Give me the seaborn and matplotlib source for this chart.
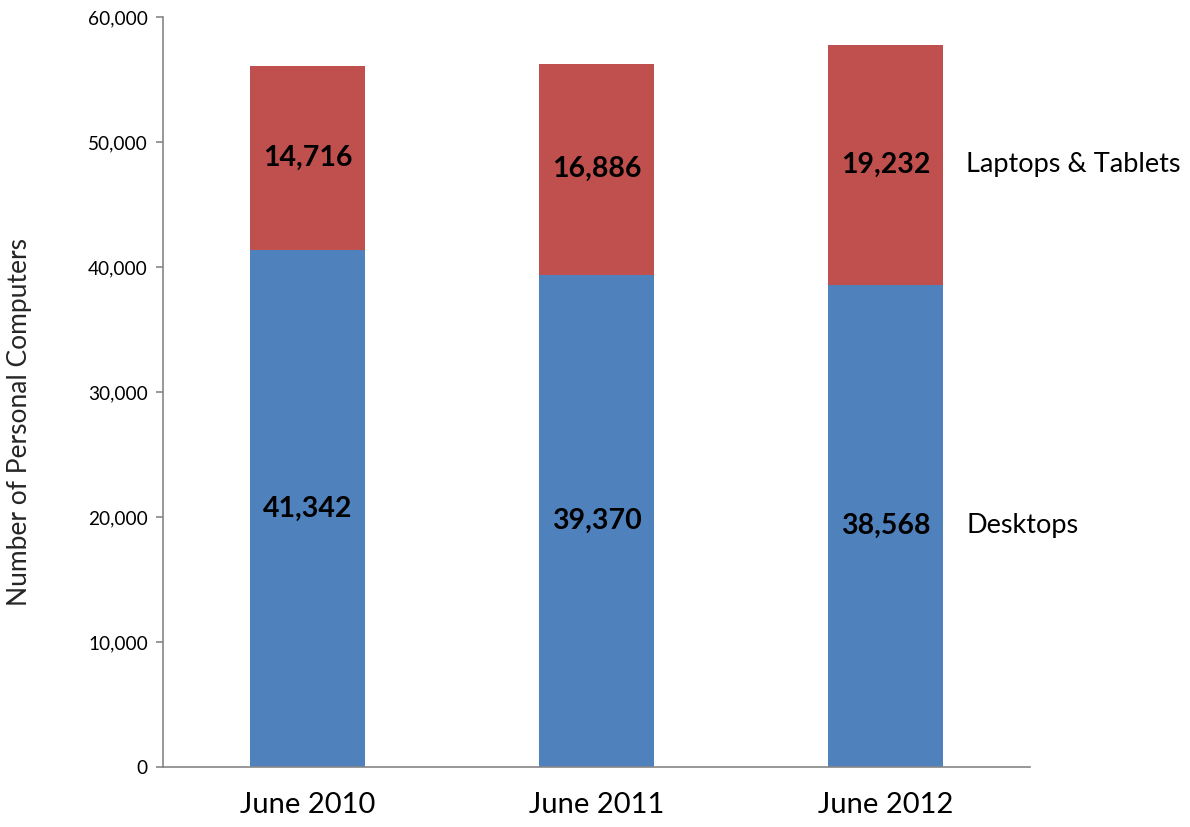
import matplotlib
matplotlib.use("Agg")
import matplotlib.pyplot as plt
import seaborn as sns
import pandas as pd
import numpy as np

# Personal computer counts by period
periods = ["June 2010", "June 2011", "June 2012"]
desktops = [41342, 39370, 38568]
laptops_tablets = [14716, 16886, 19232]
series_names = ["Desktops", "Laptops & Tablets"]
y_ticks = [0, 10000, 20000, 30000, 40000, 50000, 60000]

BLUE = "#4F81BD"
RED = "#C0504D"
AXIS_GRAY = "#868686"

sns.set_theme(style="white")
plt.rcParams["font.family"] = ["Lato", "DejaVu Sans"]

df = pd.DataFrame({
    "period": periods,
    "desktops": desktops,
    "laptops": laptops_tablets,
})
df["total"] = df["desktops"] + df["laptops"]

fig = plt.figure(figsize=(11.9, 8.27), dpi=100)
ax = fig.add_axes([0.137, 0.0726, 0.7286, 0.9068])

# Stacked bars: full stack in red, desktop portion in blue on top of it
sns.barplot(data=df, x="period", y="total", color=RED, saturation=1,
            width=0.4, ax=ax, edgecolor="none")
sns.barplot(data=df, x="period", y="desktops", color=BLUE, saturation=1,
            width=0.4, ax=ax, edgecolor="none")

# Value labels centred in each segment
for i, (d, l) in enumerate(zip(desktops, laptops_tablets)):
    ax.text(i, d / 2, f"{d:,}", ha="center", va="center",
            fontsize=20.5, fontweight="bold", color="black")
    ax.text(i, d + l / 2, f"{l:,}", ha="center", va="center",
            fontsize=20.5, fontweight="bold", color="black")

# Series names to the right of the last bar
last = len(periods) - 1
ax.text(last + 0.28, desktops[last] / 2, series_names[0], ha="left",
        va="center", fontsize=19.5, color="black")
ax.text(last + 0.28, desktops[last] + laptops_tablets[last] / 2,
        series_names[1], ha="left", va="center", fontsize=19.5, color="black")

ax.set_xlim(-0.5, 2.5)
ax.set_ylim(0, 60000)
ax.set_yticks(y_ticks)
ax.set_yticklabels([f"{v:,}" for v in y_ticks])
ax.set_xlabel("")
ax.set_ylabel("Number of Personal Computers", fontsize=19)
ax.yaxis.set_label_coords(-0.151, 0.46)

for side in ["top", "right"]:
    ax.spines[side].set_visible(False)
for side in ["left", "bottom"]:
    ax.spines[side].set_color(AXIS_GRAY)
    ax.spines[side].set_linewidth(1.2)

ax.tick_params(axis="y", which="both", left=True, length=5, width=1.2,
               color=AXIS_GRAY, labelsize=13.7, pad=6, labelcolor="black")
ax.tick_params(axis="x", bottom=False, labelsize=21, pad=12,
               labelcolor="black")

fig.savefig("out.png", dpi=100)
